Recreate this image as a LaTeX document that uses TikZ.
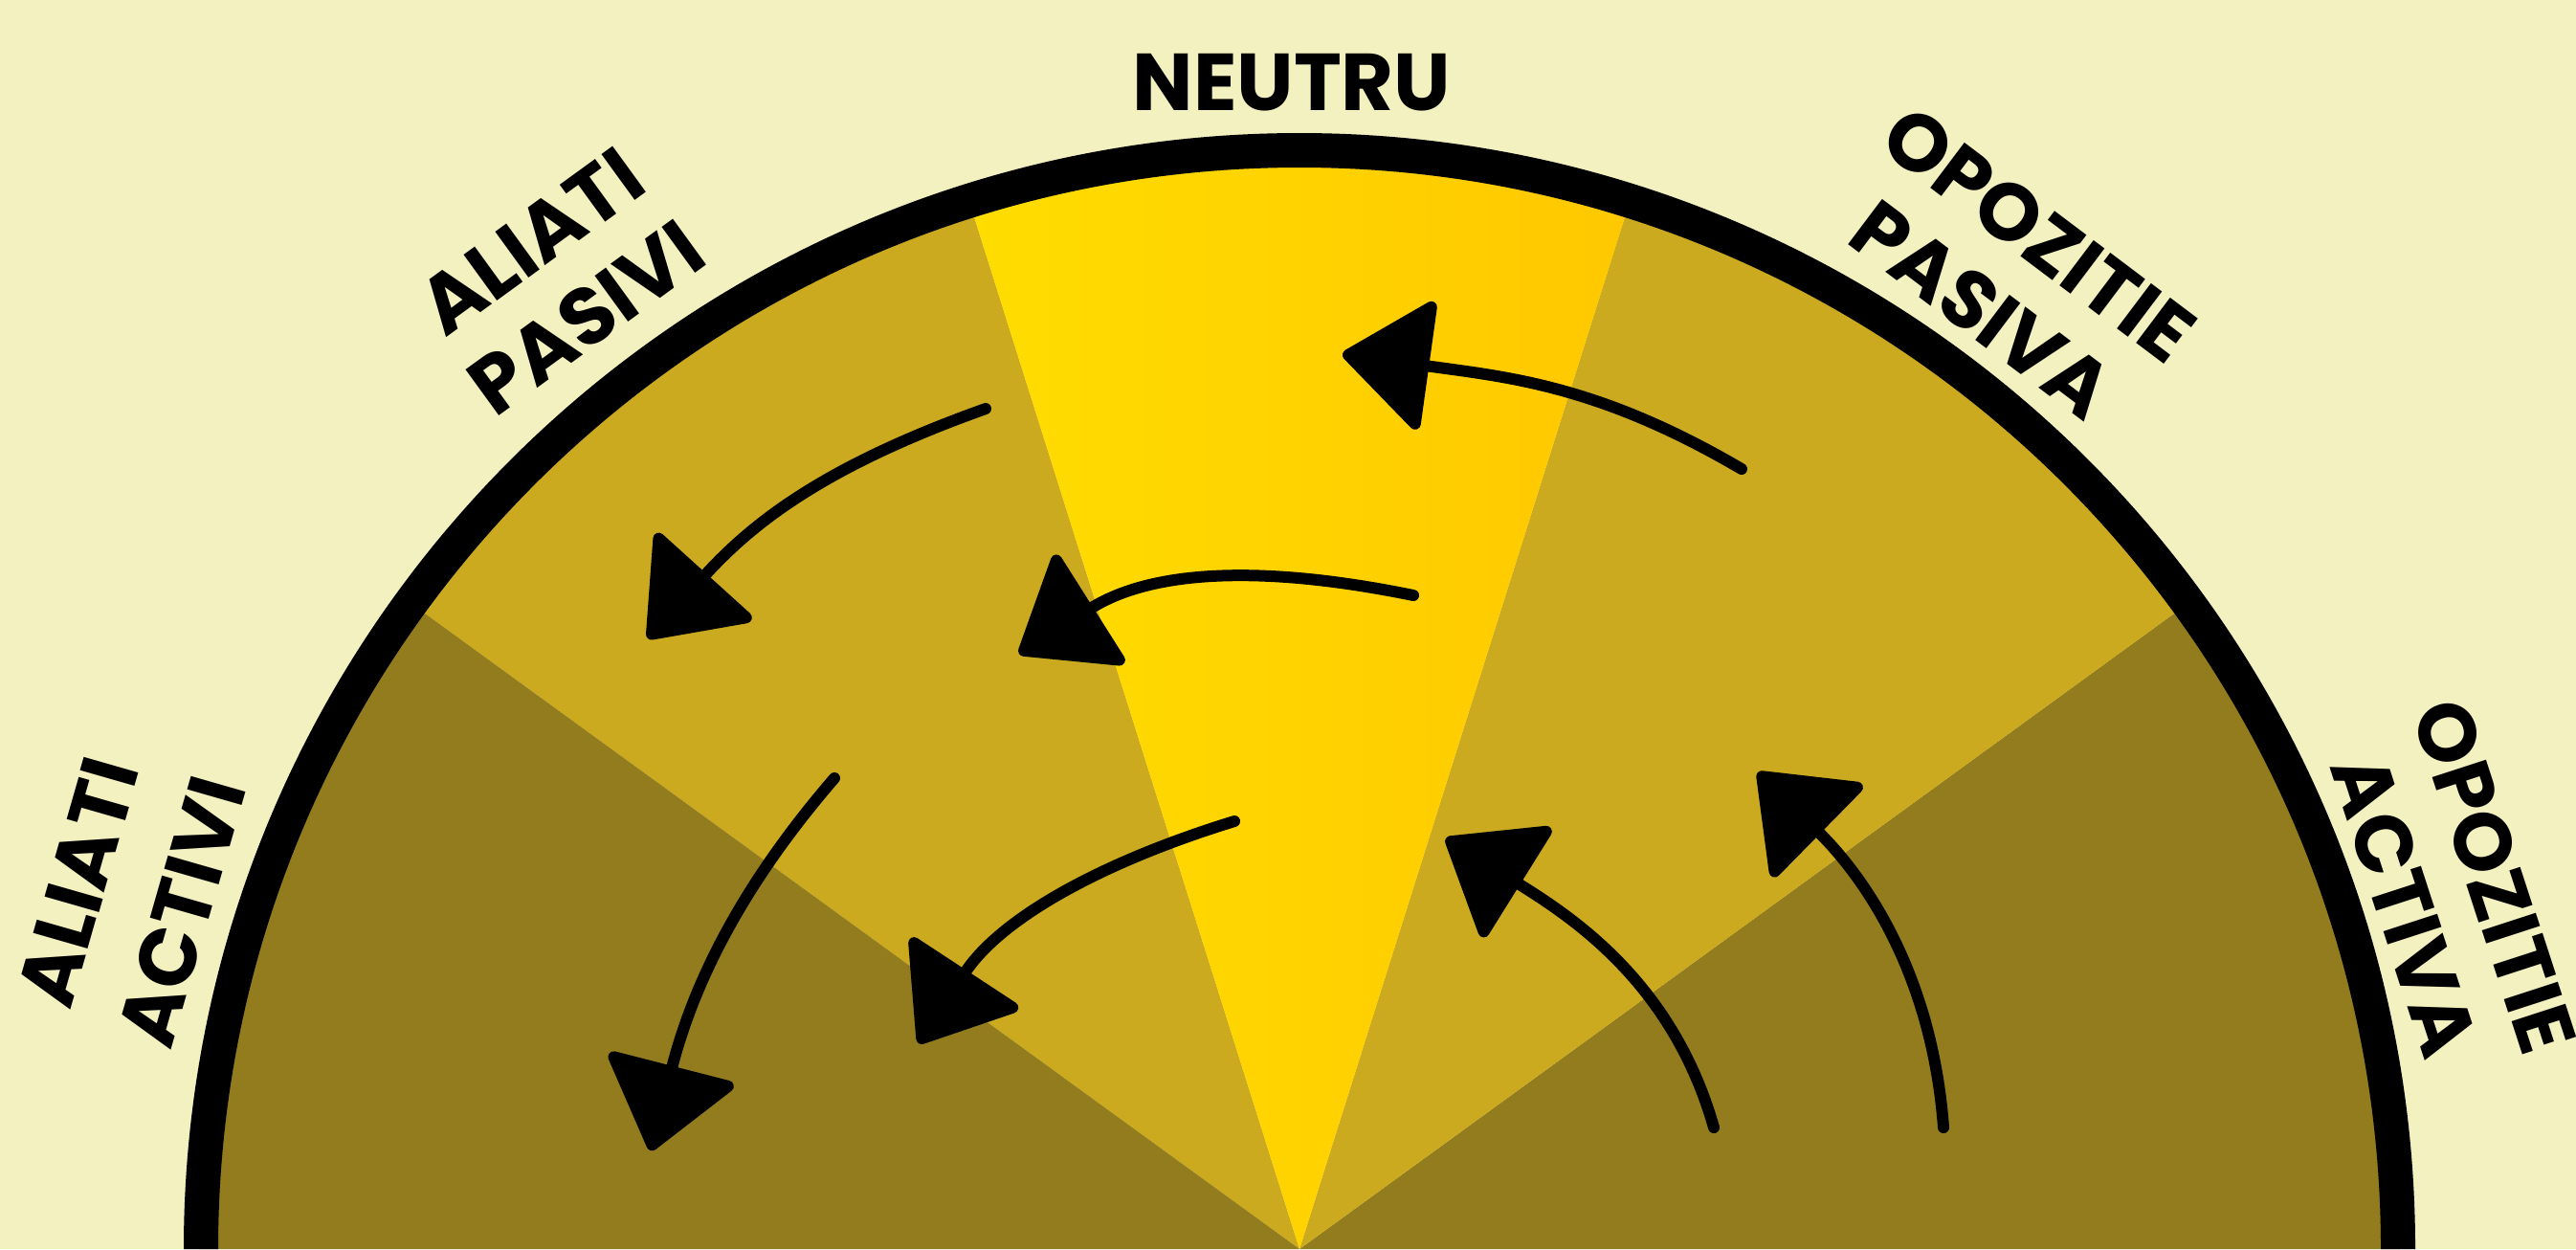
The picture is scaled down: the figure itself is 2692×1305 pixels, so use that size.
\documentclass[tikz,border=0pt]{standalone}
\usepackage{fontspec}
\newfontfamily\handfont{Poppins}
\usetikzlibrary{arrows.meta, positioning}
\definecolor{bgcream}{RGB}{244,241,192}
\definecolor{neutralL}{RGB}{255,221,0}
\definecolor{neutralR}{RGB}{255,200,0}
\definecolor{passive}{RGB}{204,170,32}
\definecolor{active}{RGB}{146,124,30}

\begin{document}
\begin{tikzpicture}[x=0.1mm, y=-0.1mm,
    lbl/.style={font=\handfont\bfseries\fontsize{24}{28}\selectfont,
                align=center, inner sep=0pt},
    arr/.style={-{Triangle[length=9.5mm, width=14.5mm, round]}, line width=1.2mm,
                line cap=round},
    ring/.style={line width=3.6mm, draw=black}
  ]
    \useasboundingbox (0,0) rectangle (2692,1305);
    \fill[bgcream] (0,0) rectangle (2692,1305);
    \clip (0,0) rectangle (2692,1305);

    % Sectors
    \begin{scope}[shift={(1358,1305)}, yscale=-1]
      \foreach \a/\b/\c in {0/36/active, 36/72.5/passive, 107.5/144/passive, 144/180/active}
        \fill[\c] (0,0) -- (\a:1150) arc[start angle=\a, end angle=\b, radius=1150] -- cycle;
      \shade[left color=neutralL, right color=neutralR]
        (0,0) -- (72.5:1150) arc[start angle=72.5, end angle=107.5, radius=1150] -- cycle;
      \draw[ring] (0:1148) arc[start angle=0, end angle=180, radius=1148];
    \end{scope}

    % Labels
    \node[lbl] (neutru) at (1350,86) {NEUTRU};
    \node[lbl, rotate=36] (alPas) at (584,292) {ALIATI\\PASIVI};
    \node[lbl, rotate=-37] (opPas) at (2101,284) {OPOZITIE\\PASIVA};
    \node[lbl, rotate=74] (alAct) at (136,937) {ALIATI\\[4pt]ACTIVI};
    \node[lbl, rotate=-72] (opAct) at (2560,931) {OPOZITIE\\ACTIVA};

    % Arrow ends
    \coordinate (p1) at (1820,490);  \coordinate (q1) at (1403,370);
    \coordinate (p2) at (1030,427);  \coordinate (q2) at (677,667);
    \coordinate (p3) at (1477,622);  \coordinate (q3) at (1065,683);
    \coordinate (p4) at (872,813);   \coordinate (q4) at (680,1202);
    \coordinate (p5) at (1290,858);  \coordinate (q5) at (960,1090);
    \coordinate (p6) at (1791,1178); \coordinate (q6) at (1511,876);
    \coordinate (p7) at (2031,1178); \coordinate (q7) at (1837,807);

    % Arrows
    \draw[arr] (p1) .. controls (1670,402) and (1575,394) .. (q1);
    \draw[arr] (p2) .. controls (870,484) and (791,541) .. (q2);
    \draw[arr] (p3) .. controls (1320,590) and (1204,595) .. (q3);
    \draw[arr] (p4) .. controls (764,938) and (721,1042) .. (q4);
    \draw[arr] (p5) .. controls (1144,903) and (1044,962) .. (q5);
    \draw[arr] (p6) .. controls (1748,1027) and (1644,959) .. (q6);
    \draw[arr] (p7) .. controls (2019,1019) and (1950,918) .. (q7);

  \end{tikzpicture}
\end{document}
